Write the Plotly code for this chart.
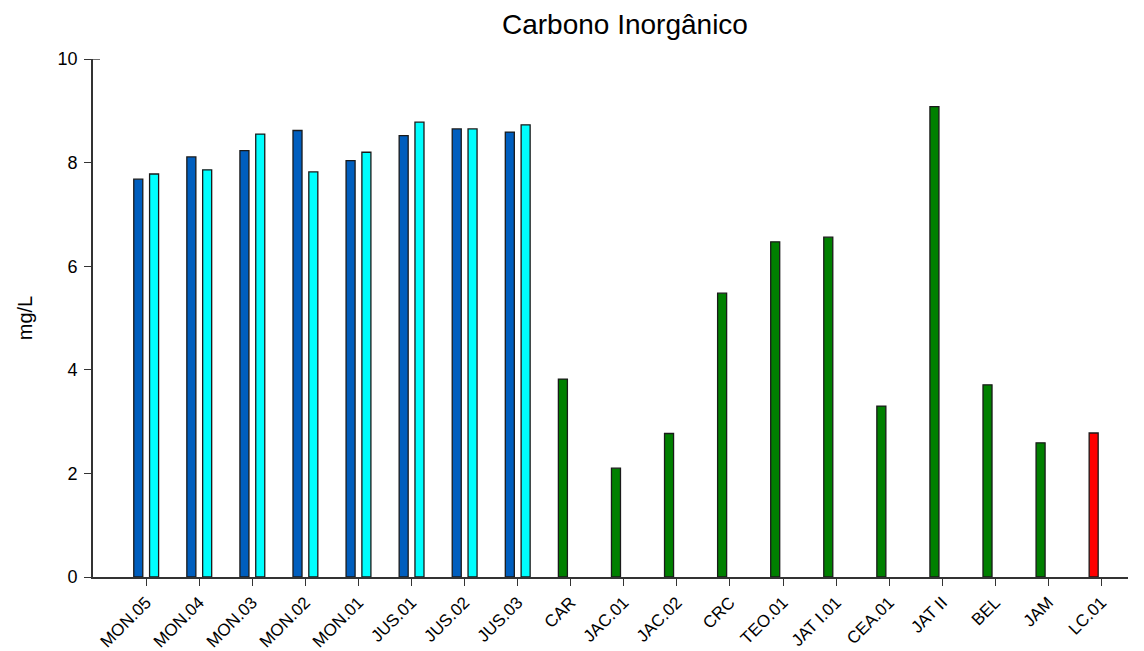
import plotly.graph_objects as go

categories = ["MON.05", "MON.04", "MON.03", "MON.02", "MON.01", "JUS.01", "JUS.02", "JUS.03",
              "CAR", "JAC.01", "JAC.02", "CRC", "TEO.01", "JAT I.01", "CEA.01", "JAT II",
              "BEL", "JAM", "LC.01"]

# first campaign (dark blue) and second campaign (cyan) for MON / JUS stations
serie_1 = [7.68, 8.11, 8.23, 8.62, 8.04, 8.52, 8.65, 8.59]
serie_2 = [7.78, 7.86, 8.55, 7.82, 8.20, 8.78, 8.65, 8.73]
# tributaries (green)
tributarios = [3.82, 2.10, 2.77, 5.48, 6.47, 6.56, 3.30, 9.08, 3.71, 2.59]
# LC.01 (red)
lc01 = [2.78]

y_ticks = [0, 2, 4, 6, 8, 10]

n1 = len(serie_1)
x1 = list(range(n1))
x_trib = list(range(n1, n1 + len(tributarios)))
x_lc = [n1 + len(tributarios)]
x_all = list(range(len(categories)))

line = dict(color="#1a1a1a", width=1.3)
W = 0.17
OFF1 = -0.232
OFF2 = 0.066

fig = go.Figure()
fig.add_trace(go.Bar(x=x1, y=serie_1, width=W, offset=OFF1,
                     marker=dict(color="#005EBE", line=line), showlegend=False))
fig.add_trace(go.Bar(x=x1, y=serie_2, width=W, offset=OFF2,
                     marker=dict(color="#00FFFF", line=line), showlegend=False))
fig.add_trace(go.Bar(x=x_trib, y=tributarios, width=W, offset=OFF1,
                     marker=dict(color="#008000", line=line), showlegend=False))
fig.add_trace(go.Bar(x=x_lc, y=lc01, width=W, offset=OFF1,
                     marker=dict(color="#FF0000", line=line), showlegend=False))

axis_col = "#333333"
fig.update_layout(
    width=1144, height=651,
    margin=dict(l=93, r=16, t=59, b=74),
    plot_bgcolor="white", paper_bgcolor="white",
    font=dict(family="Liberation Sans, Arial, sans-serif", color="black", size=18),
    title=dict(text="Carbono Inorgânico", x=0.514, xref="paper", xanchor="center",
               y=1 - 24 / 651, yref="container", yanchor="middle",
               font=dict(size=28, color="black")),
    barmode="overlay",
    xaxis=dict(range=[-1, 18.5], tickmode="array", tickvals=x_all, ticktext=categories,
               tickangle=-45, showgrid=False, zeroline=False, automargin=False,
               showline=True, linecolor=axis_col, linewidth=1.6,
               ticks="outside", ticklen=7, tickwidth=1.4, tickcolor=axis_col,
               tickfont=dict(size=17)),
    yaxis=dict(range=[0, 10], tickmode="array", tickvals=y_ticks,
               showgrid=False, zeroline=False, automargin=False,
               showline=True, linecolor=axis_col, linewidth=1.6,
               ticks="outside", ticklen=7, tickwidth=1.4, tickcolor=axis_col,
               tickfont=dict(size=18), ticklabelstandoff=3,
               title=dict(text="mg/L", font=dict(size=20), standoff=20)),
)

fig.add_shape(type="line", xref="paper", yref="y", x0=0, x1=7 / 1035, y0=10, y1=10,
              line=dict(color=axis_col, width=1.4))

fig.write_html("out.html")
